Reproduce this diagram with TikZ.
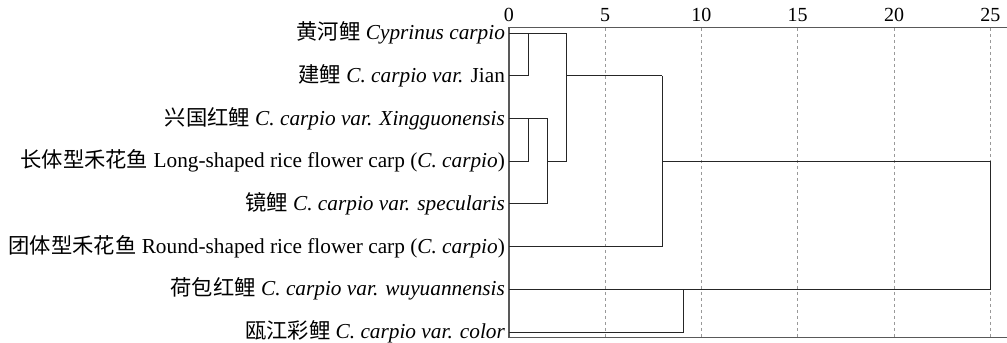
\documentclass[tikz,border=0pt]{standalone}
\usepackage{fontspec}
\setmainfont{Liberation Serif}
\newfontfamily\cjk{Noto Sans CJK SC}

\tikzset{
  leaf/.style={anchor=east, inner sep=0pt, font=\fontsize{21.3}{24}\selectfont},
  tick/.style={inner sep=0pt, font=\fontsize{20}{22}\selectfont},
  link/.style={draw=black!85, line width=0.8pt},
  frame/.style={draw=black!65, line width=1.1pt},
  grid/.style={draw=black!40, dashed, line width=0.6pt}
}

\begin{document}
\begin{tikzpicture}[x=19.25pt, y=42.7pt]
  \useasboundingbox (-26.44,0.773) rectangle (25.87,-7.237);

  % rows
  \foreach \i in {1,...,8} \coordinate (r\i) at (0,1-\i);

  % labels
  \node[leaf] (l1) at (-0.2,0)  {{\cjk 黄河鲤} \textit{Cyprinus carpio}};
  \node[leaf] (l2) at (-0.2,-1) {{\cjk 建鲤} \textit{C. carpio var.} Jian};
  \node[leaf] (l3) at (-0.2,-2) {{\cjk 兴国红鲤} \textit{C. carpio var. Xingguonensis}};
  \node[leaf] (l4) at (-0.2,-3) {{\cjk 长体型禾花鱼} Long-shaped rice flower carp (\textit{C. carpio})};
  \node[leaf] (l5) at (-0.2,-4) {{\cjk 镜鲤} \textit{C. carpio var. specularis}};
  \node[leaf] (l6) at (-0.2,-5) {{\cjk 团体型禾花鱼} Round-shaped rice flower carp (\textit{C. carpio})};
  \node[leaf] (l7) at (-0.2,-6) {{\cjk 荷包红鲤} \textit{C. carpio var. wuyuannensis}};
  \node[leaf] (l8) at (-0.2,-7) {{\cjk 瓯江彩鲤} \textit{C. carpio var. color}};

  % scale
  \foreach \v in {5,10,...,25}
    \draw[grid] (\v,0.12) -- (\v,-7.14);
  \foreach \v in {0,5,...,25}
    \node[tick] (t\v) at (\v,0.43) {\v};
  \draw[frame] (25.87,0.12) -- (0,0.12) -- (0,-7.14) -- (25.87,-7.14);

  % joins
  \coordinate (a1) at (1,0);     \coordinate (a2) at (1,-1);
  \coordinate (b3) at (1,-2);    \coordinate (b4) at (1,-3);
  \coordinate (c3) at (2,-2);    \coordinate (c5) at (2,-4);
  \coordinate (d1) at (3,0);     \coordinate (d4) at (3,-3);
  \coordinate (e2) at (7.95,-1); \coordinate (e6) at (7.95,-5);
  \coordinate (f7) at (9.05,-6); \coordinate (f8) at (9.05,-7);
  \coordinate (g4) at (25,-3);   \coordinate (g7) at (25,-6);

  \draw[link] (r1) -- (d1);
  \draw[link] (a1) -- (a2) -- (r2);
  \draw[link] (d1) -- (d4) -- (c3 |- r4);
  \draw[link] (d1 |- r2) -- (e2);
  \draw[link] (r3) -- (c3) -- (c5) -- (r5);
  \draw[link] (b3) -- (b4) -- (r4);
  \draw[link] (e2) -- (e6) -- (r6);
  \draw[link] (e2 |- r4) -- (g4) -- (g7) -- (r7);
  \draw[link] (f7) -- (f8) -- (r8);
\end{tikzpicture}
\end{document}
